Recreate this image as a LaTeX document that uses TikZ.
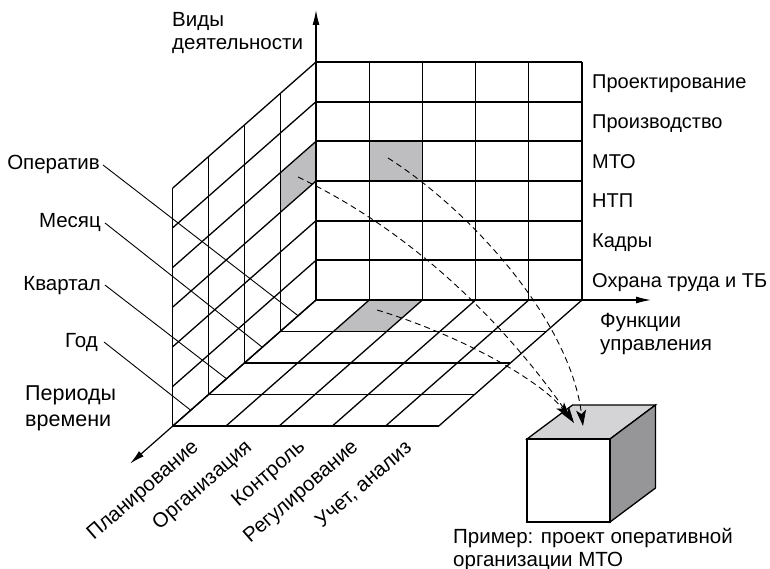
\documentclass[tikz,border=0pt]{standalone}
\usepackage{fontspec}
\setmainfont{Liberation Sans}
\usetikzlibrary{arrows.meta,calc}
\definecolor{cellgray}{RGB}{190,190,193}
\definecolor{cubetop}{RGB}{212,212,214}
\definecolor{cubeside}{RGB}{150,150,152}
\begin{document}
\begin{tikzpicture}[x=1pt,y=-1pt,
  gridline/.style={line width=1.3pt},
  heavy/.style={line width=1.8pt},
  leader/.style={line width=0.9pt},
  axis/.style={line width=1.2pt,-{Latex[length=15pt,width=7pt]}},
  flow/.style={line width=0.9pt,dash pattern=on 6pt off 4pt,
    -{Stealth[length=16pt,width=10pt,inset=4pt]}},
  lab/.style={inner sep=0pt,font=\fontsize{20.5}{23}\selectfont},
  rowlab/.style={inner sep=0pt,font=\fontsize{20}{23}\selectfont},
  biglab/.style={inner sep=0pt,font=\fontsize{21.5}{26}\selectfont},
  line join=miter]
\useasboundingbox (0,0) rectangle (770,569);

% grid parameters: back wall origin, cell size, depth step
\def\bx{316}\def\by{62}\def\cw{53.2}\def\rh{39.667}
\def\ddx{-35.8}\def\ddy{31.5}

% shaded cells
\fill[cellgray] ({\bx+\cw},{\by+2*\rh}) rectangle ({\bx+2*\cw},{\by+3*\rh});
\fill[cellgray] (\bx,{\by+2*\rh}) -- (\bx,{\by+3*\rh})
  -- ({\bx+\ddx},{\by+3*\rh+\ddy}) -- ({\bx+\ddx},{\by+2*\rh+\ddy}) -- cycle;
\fill[cellgray] ({\bx+\cw},300) -- ({\bx+2*\cw},300)
  -- ({\bx+2*\cw+\ddx},{300+\ddy}) -- ({\bx+\cw+\ddx},{300+\ddy}) -- cycle;

% back wall
\foreach \i in {0,...,5}
  \draw[gridline] ({\bx+\cw*\i},\by) -- ({\bx+\cw*\i},300);
\draw[gridline] (\bx,\by) -- ({\bx+5*\cw},\by);
\foreach \j in {1,...,5}
  \draw[heavy] (\bx,{\by+\rh*\j}) -- ({\bx+5*\cw},{\by+\rh*\j});

% left wall
\foreach \k in {0,...,4}
  \draw[gridline] ({\bx+\k*\ddx},{\by+\k*\ddy}) -- ({\bx+\k*\ddx},{300+\k*\ddy});
\draw[gridline] (\bx,\by) -- ({\bx+4*\ddx},{\by+4*\ddy});
\foreach \j in {1,...,6}
  \draw[gridline] (\bx,{\by+\rh*\j}) -- ({\bx+4*\ddx},{\by+\rh*\j+4*\ddy});

% floor
\foreach \k in {0,...,4}
  \draw[heavy] ({\bx+\k*\ddx},{300+\k*\ddy}) -- ({\bx+5*\cw+\k*\ddx},{300+\k*\ddy});
\foreach \i in {0,...,5}
  \draw[gridline] ({\bx+\cw*\i},300) -- ({\bx+\cw*\i+4*\ddx},{300+4*\ddy});

% axes
\coordinate (vbase) at (\bx,\by);
\coordinate (vtip) at (\bx,10);
\coordinate (hbase) at ({\bx+5*\cw},300);
\coordinate (htip) at (651,300);
\coordinate (dbase) at ({\bx+4*\ddx},{300+4*\ddy});
\coordinate (dtip) at (130,463.7);
\draw[axis] (vbase) -- (vtip);
\draw[axis] (hbase) -- (htip);
\draw[axis] (dbase) -- (dtip);

% axis titles
\node[lab,anchor=base west] (acttitle) at (172,27)
  {\vtop{\hbox{Виды}\hbox{деятельности}}};
\node[lab,anchor=base west] (fntitle) at (600,327)
  {\vtop{\hbox{Функции}\hbox{управления}}};
\node[biglab,anchor=base west] (pertitle) at (25,400)
  {\vtop{\hbox{Периоды}\hbox{времени}}};

% activity rows
\foreach \t [count=\j from 0] in {Проектирование,Производство,МТО,НТП,Кадры,Охрана труда и ТБ}
  \node[rowlab,anchor=base west] (act\j) at (592,{\by+\rh*(\j+0.5)+7}) {\t};

% management functions
\foreach \t [count=\i from 0] in {Планирование,Организация,Контроль,Регулирование,{Учет, анализ}}
  \node[lab,rotate=41,anchor=east] (fn\i) at ({\bx+4*\ddx+\cw*(\i+0.5)-3},445) {\t};

% time periods with leader lines
\node[lab,inner xsep=3pt,anchor=base east] (per0) at (103,170) {Оператив};
\node[lab,inner xsep=4pt,anchor=base east] (per1) at (105,228) {Месяц};
\node[lab,inner xsep=4pt,anchor=base east] (per2) at (105,290) {Квартал};
\node[lab,inner xsep=6pt,anchor=base east] (per3) at (104,347) {Год};
\foreach \k in {0,...,3}{
  \coordinate (pe\k) at ({\bx+(\k+0.5)*\ddx},{300+(\k+0.5)*\ddy});
  \draw[leader] (per\k.east) -- (pe\k);
}

% cube
\coordinate (fa) at (527,439);
\coordinate (fb) at (610,439);
\coordinate (fc) at (610,522);
\coordinate (fd) at (527,522);
\coordinate (ta) at (572.5,405);
\coordinate (tb) at (655.5,405);
\coordinate (tc) at (655.5,488);
\draw[gridline,fill=cubetop] (fa) -- (fb) -- (tb) -- (ta) -- cycle;
\draw[gridline,fill=cubeside] (fb) -- (tb) -- (tc) -- (fc) -- cycle;
\draw[gridline,fill=white] (fa) rectangle (fc);

\node[lab,anchor=base west] (example) at (453,543)
  {\vtop{\hbox{Пример: проект оперативной}\hbox{организации МТО}}};

% projections of the selected cells onto the cube
\coordinate (sl) at (298,177);
\coordinate (sb) at (388,158);
\coordinate (sf) at (377,310);
\coordinate (el) at (574,423);
\coordinate (eb) at (583,426);
\coordinate (ef) at (570,418);
\draw[flow] (sl) .. controls (430,240) and (520,345) .. (el);
\draw[flow] (sb) .. controls (470,210) and (570,320) .. (eb);
\draw[flow] (sf) .. controls (460,335) and (540,380) .. (ef);
\end{tikzpicture}
\end{document}
